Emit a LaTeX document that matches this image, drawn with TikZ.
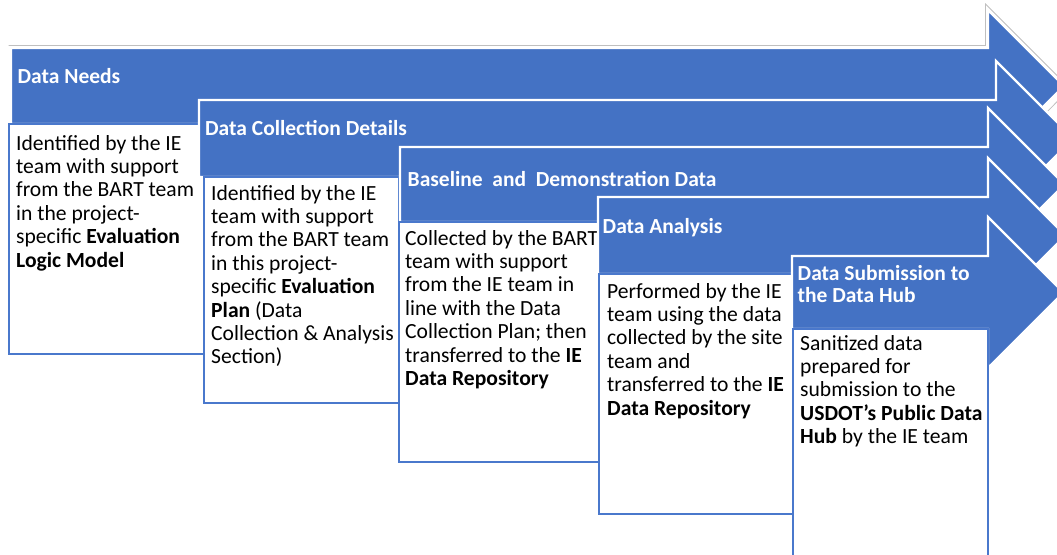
\documentclass[tikz,border=0pt]{standalone}
\usepackage{fontspec}
\setmainfont{Carlito}
\definecolor{stepblue}{HTML}{4472C4}
\definecolor{boxblue}{HTML}{4A78CC}
\tikzset{
  arrowshape/.style={fill=stepblue, draw=white, line width=2.2pt, line join=miter},
  outerline/.style={draw=black!25, line width=0.8pt},
  textbox/.style={fill=white, draw=boxblue, line width=2pt},
  headtext/.style={text=white, font=\bfseries\fontsize{21.5}{22.7}\selectfont, anchor=base west, inner sep=0pt},
  bodytext/.style={text=black, font=\fontsize{21.6}{23.4}\selectfont, anchor=base west, inner sep=0pt},
}
\begin{document}
\begin{tikzpicture}[x=1pt,y=-1pt]
\useasboundingbox (0,0) rectangle (1057,554);
\clip (0,0) rectangle (1057,554);
% arrow 1 with faint outer outline
\draw[outerline] (8.5,45.5) -- (985.5,45.5) -- (985.5,4) -- (1070,88.5) -- (990,170);
\filldraw[arrowshape] (11,48) -- (988,48) -- (988,10) -- (1064,86) -- (988,162) -- (988,124) -- (11,124) -- cycle;
\node[headtext] (h1) at (17.5,83) {Data Needs};
\filldraw[textbox] (9,124) rectangle (204,354);
\node[bodytext] (b1) at (16,150) {\parbox[t]{200pt}{\raggedright Identified by the IE\\team with support\\from the BART team\\in the project-\\specific \textbf{Evaluation}\\\textbf{Logic Model}}};
% arrow 2
\filldraw[arrowshape] (199,100) -- (996,100) -- (996,61) -- (1073.5,138.5) -- (996,216) -- (996,177) -- (199,177) -- cycle;
\node[headtext] (h2) at (205,135) {Data Collection Details};
\filldraw[textbox] (204,177) rectangle (399,403);
\node[bodytext] (b2) at (211,200) {\parbox[t]{200pt}{\raggedright Identified by the IE\\team with support\\from the BART team\\in this project-\\specific \textbf{Evaluation}\\\textbf{Plan} (Data\\Collection \& Analysis\\Section)}};
% arrow 3
\filldraw[arrowshape] (400,147) -- (988,147) -- (988,108) -- (1064.5,184.5) -- (988,261) -- (988,222) -- (400,222) -- cycle;
\node[headtext] (h3) at (407.5,186) {Baseline\ \ and\ \ Demonstration Data};
\filldraw[textbox] (399,222) rectangle (599,462);
\node[bodytext] (b3) at (405,245) {\parbox[t]{200pt}{\raggedright Collected by the BART\\team with support\\from the IE team in\\line with the Data\\Collection Plan; then\\transferred to the \textbf{IE}\\\textbf{Data Repository}}};
% arrow 4
\filldraw[arrowshape] (598,197) -- (988,197) -- (988,158) -- (1065.5,235.5) -- (988,313) -- (988,274) -- (598,274) -- cycle;
\node[headtext] (h4) at (602.5,233) {Data Analysis};
\filldraw[textbox] (599,274) rectangle (793,514);
\node[bodytext] (b4) at (607,298) {\parbox[t]{200pt}{\raggedright Performed by the IE\\team using the data\\collected by the site\\team and\\transferred to the \textbf{IE}\\\textbf{Data Repository}}};
% arrow 5
\filldraw[arrowshape] (792,256) -- (988,256) -- (988,217) -- (1063.5,292.5) -- (988,368) -- (988,329) -- (792,329) -- cycle;
\node[headtext] (h5) at (797.5,280) {\parbox[t]{200pt}{\raggedright Data Submission to\\the Data Hub}};
\filldraw[textbox] (793,329) rectangle (988,580);
\node[bodytext] (b5) at (800,350) {\parbox[t]{200pt}{\raggedright Sanitized data\\prepared for\\submission to the\\\textbf{USDOT’s Public Data}\\\textbf{Hub} by the IE team}};
\end{tikzpicture}
\end{document}
